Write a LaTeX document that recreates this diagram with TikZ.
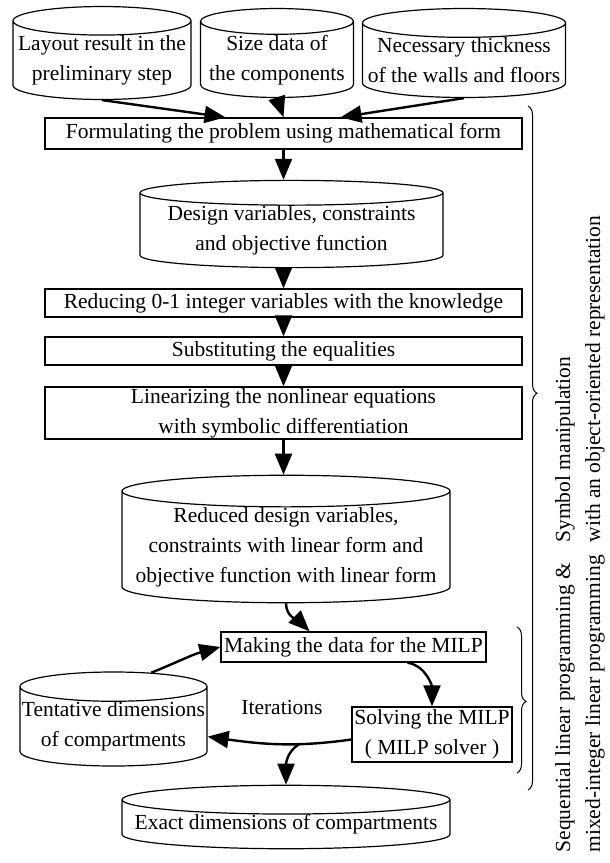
\documentclass[tikz,border=0pt]{standalone}
\usepackage{fontspec}
\setmainfont{Liberation Serif}
\usetikzlibrary{shapes.geometric, arrows.meta, decorations.pathreplacing}

\begin{document}
\begin{tikzpicture}[x=1pt, y=-1pt,
  font=\fontsize{21.5}{30}\selectfont,
  proc/.style={draw, line width=1.3pt, inner sep=0pt, align=center},
  datastore/.style={draw, line width=1.2pt, cylinder, shape border rotate=90, aspect=#1, inner sep=0pt, align=center, anchor=shape center},
  flow/.style={line width=2.4pt, -{Triangle[length=21pt, width=17pt]}},
  grp/.style={decorate, decoration={brace, amplitude=9pt, aspect=#1}, line width=1pt}]
\useasboundingbox (0,0) rectangle (610,863);
% input data
\node[datastore=0.17, minimum width=178, minimum height=84] (layout) at (102,53) {Layout result in the\\preliminary step};
\node[datastore=0.19, minimum width=153, minimum height=84] (sizes) at (277,53) {Size data of\\the components};
\node[datastore=0.15, minimum width=203, minimum height=84] (walls) at (464,53) {Necessary thickness\\of the walls and floors};
% symbol manipulation steps
\node[proc, minimum width=477, minimum height=31] (form) at (283.5,133.5) {Formulating the problem using mathematical form};
\node[datastore=0.10, minimum width=303, minimum height=80] (design) at (291.5,224) {Design variables, constraints\\and objective function};
\node[proc, minimum width=477, minimum height=28] (reduce) at (283.5,303) {Reducing 0-1 integer variables with the knowledge};
\node[proc, minimum width=477, minimum height=28] (subst) at (283.5,351) {Substituting the equalities};
\node[proc, minimum width=477, minimum height=52] (linear) at (283.5,413) {Linearizing the nonlinear equations\\with symbolic differentiation};
\node[datastore=0.105, minimum width=328, minimum height=122] (reduced) at (286,539) {Reduced design variables,\\constraints with linear form and\\objective function with linear form};
% iteration loop
\node[proc, minimum width=265, minimum height=30] (making) at (353.5,647) {Making the data for the MILP};
\node[proc, minimum width=160, minimum height=55] (solving) at (432,734.5) {Solving the MILP\\( MILP solver )};
\node[datastore=0.16, minimum width=187, minimum height=90] (tent) at (113.5,719) {Tentative dimensions\\of compartments};
\node (iter) at (282,707) {Iterations};
\node[datastore=0.095, minimum width=328, minimum height=54] (exact) at (286,817) {Exact dimensions of compartments};

\draw[flow] (layout.-90) -- ([xshift=-58]form.north);
\draw[flow] (sizes.-90) -- (form.north);
\draw[flow] (walls.-90) -- ([xshift=57]form.north);
\draw[flow] (form.south) -- (form.south |- design.90);
\draw[flow] (form.south |- design.-90) -- (reduce.north);
\draw[flow] (reduce.south) -- (subst.north);
\draw[flow] (subst.south) -- (linear.north);
\draw[flow] (linear.south) -- (linear.south |- reduced.90);
\draw[flow] (reduced.-90) to[out=-90, in=135] ([xshift=-44]making.north);
\draw[flow] (tent.55) to[out=22, in=195] (making.west);
\draw[flow] ([xshift=54]making.south) to[out=-10, in=90] (solving.north);
\draw[flow] ([yshift=-5]solving.west) to[out=188, in=-8] coordinate[pos=0.35] (split) ([yshift=-10]tent.east);
\draw[flow] (split) to[out=-150, in=90] (exact.90);

% braces and their labels
\draw[grp=0.42] (528,106) -- (528,790);
\draw[grp=0.51] (517,627) -- (517,773);
\node[rotate=90, anchor=west, align=left] (symb) at (580,546) {Symbol manipulation\\with an object-oriented representation};
\node[rotate=90, anchor=west, align=left] (slp) at (580,856) {Sequential linear programming \&\\mixed-integer linear programming};
\end{tikzpicture}
\end{document}
